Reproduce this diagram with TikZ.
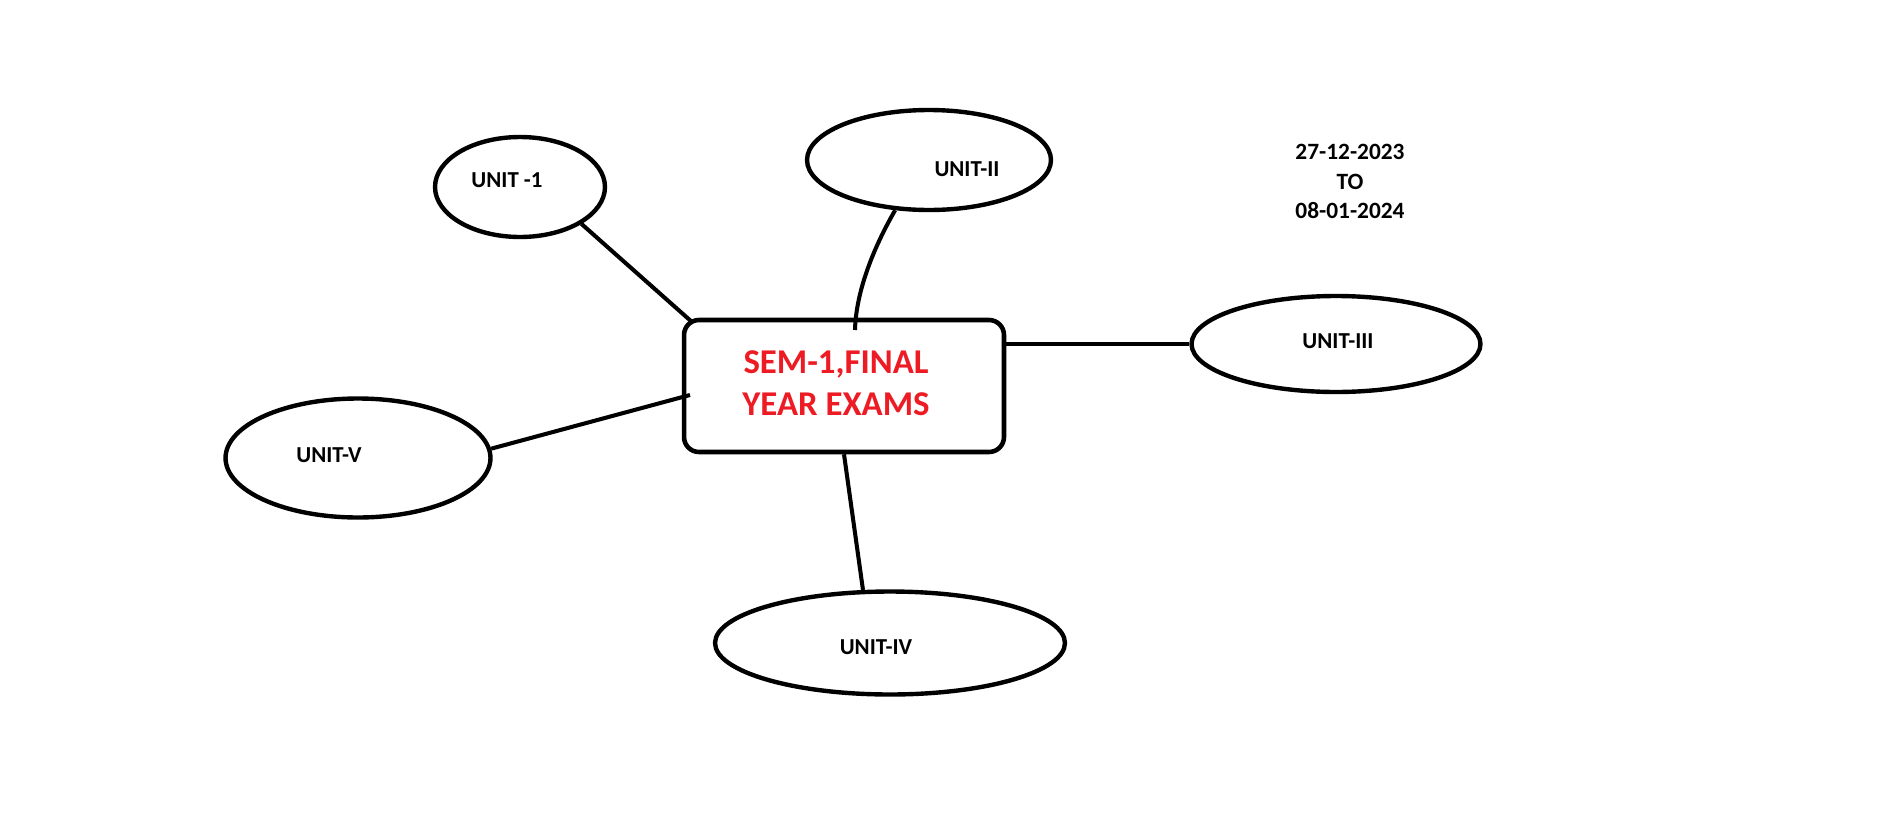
\documentclass[tikz,border=0pt]{standalone}
\usepackage{fontspec}
\setmainfont{Carlito}
\usetikzlibrary{shapes.geometric}
\definecolor{paintred}{RGB}{237,28,36}
\tikzset{
  unit/.style={draw, ellipse, line width=2.5pt, inner sep=0pt},
  unitlabel/.style={font=\bfseries\fontsize{13}{15}\selectfont, inner sep=0pt},
  link/.style={line width=2.3pt}
}
\begin{document}
\begin{tikzpicture}[x=0.02cm, y=-0.02cm]
  \useasboundingbox (0,0) rectangle (1879,825);
  \node[draw, rectangle, rounded corners=8.5pt, line width=2.6pt,
        minimum width=6.4cm, minimum height=2.64cm] (box) at (844,386) {};
  \node[text=paintred, align=center, inner sep=0pt,
        font=\bfseries\fontsize{19.8}{23.8}\selectfont] (title) at (836,383)
        {SEM-1,FINAL\\YEAR EXAMS};
  \node[unit, minimum width=3.4cm, minimum height=2.0cm] (u1) at (520,187) {};
  \node[unit, minimum width=4.88cm, minimum height=2.0cm] (u2) at (929,160) {};
  \node[unit, minimum width=5.78cm, minimum height=1.92cm] (u3) at (1336,344) {};
  \node[unit, minimum width=7.0cm, minimum height=2.06cm] (u4) at (890,643) {};
  \node[unit, minimum width=5.3cm, minimum height=2.38cm] (u5) at (358,458) {};
  \node[unitlabel] (l1) at (507,180) {UNIT -1};
  \node[unitlabel] (l2) at (967,169) {UNIT-II};
  \node[unitlabel] (l3) at (1338,341) {UNIT-III};
  \node[unitlabel] (l4) at (876,647) {UNIT-IV};
  \node[unitlabel] (l5) at (329,455) {UNIT-V};
  \node[align=center, inner sep=0pt,
        font=\bfseries\fontsize{13.3}{16.7}\selectfont] (dates) at (1350,181.5)
        {27-12-2023\\TO\\08-01-2024};
  \coordinate (b1) at (692,322);
  \coordinate (b2) at (855,330);
  \coordinate (b4) at (690,395);
  \begin{scope}[link]
    \draw (u1.-31) -- (b1);
    \draw (u2.236) .. controls (875,245) and (856,290) .. (b2);
    \draw (u3.west) -- (u3.west -| box.east);
    \draw (box.south) -- (u4.117);
    \draw (u5.4) -- (b4);
  \end{scope}
\end{tikzpicture}
\end{document}
